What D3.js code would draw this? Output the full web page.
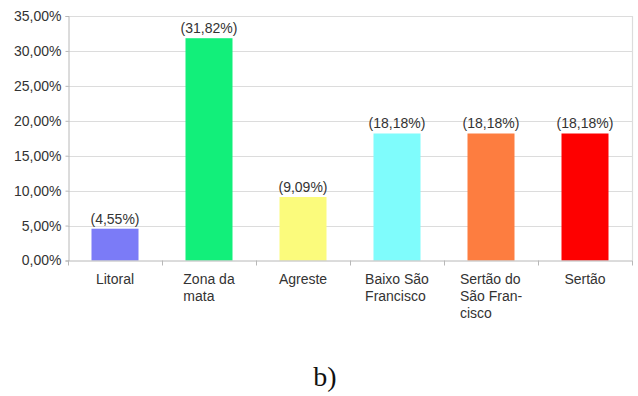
<!DOCTYPE html>
<html>
<head>
<meta charset="utf-8">
<script src="https://cdn.jsdelivr.net/npm/d3@7/dist/d3.min.js"></script>
<style>
  html, body { margin: 0; padding: 0; background: #fff; }
  svg { display: block; }
</style>
</head>
<body>
<svg id="chart" width="638" height="396"></svg>
<script>
// Regions and their share of records (percent)
const categories = ["Litoral", "Zona da mata", "Agreste", "Baixo São Francisco", "Sertão do São Francisco", "Sertão"];
const categoryLines = [["Litoral"], ["Zona da", "mata"], ["Agreste"], ["Baixo São", "Francisco"], ["Sertão do", "São Fran-", "cisco"], ["Sertão"]];
const values = [4.55, 31.82, 9.09, 18.18, 18.18, 18.18];
const barColors = ["#7b7bf7", "#12ef7a", "#fbfb7c", "#7ffcfc", "#fd7d40", "#fe0000"];
const yTicks = [0, 5, 10, 15, 20, 25, 30, 35];
const caption = "b)";

const svg = d3.select("#chart");
const plotLeft = 68, plotRight = 632, plotTop = 16, plotBottom = 260.5;

const ptBR = d3.formatLocale({ decimal: ",", thousands: ".", grouping: [3], currency: ["R$", ""] });
const fmt2 = ptBR.format(".2f");

const x = d3.scaleBand().domain(categories).range([plotLeft, plotRight]).paddingInner(0.5).paddingOuter(0.25);
const y = d3.scaleLinear().domain([0, 35]).range([plotBottom, plotTop]);

const font = "'Liberation Sans', Arial, sans-serif";
const textColor = "#333";

// horizontal gridlines
svg.append("g").selectAll("line").data(yTicks.slice(1)).join("line")
  .attr("x1", plotLeft).attr("x2", plotRight)
  .attr("y1", d => Math.round(y(d)) + 0.5).attr("y2", d => Math.round(y(d)) + 0.5)
  .attr("stroke", "#dcdcdc").attr("stroke-width", 1.2);

// right frame edge
svg.append("line").attr("x1", plotRight + 0.5).attr("x2", plotRight + 0.5).attr("y1", plotTop).attr("y2", plotBottom)
  .attr("stroke", "#dcdcdc").attr("stroke-width", 1.2);

// y axis
const yAxis = d3.axisLeft(y).tickValues(yTicks).tickSize(3).tickPadding(4)
  .tickFormat(d => fmt2(d) + "%");
const gy = svg.append("g").attr("transform", `translate(${plotLeft + 0.5},0)`).call(yAxis);
gy.select(".domain").attr("stroke", "#b8b8b8");
gy.selectAll(".tick line").attr("stroke", "#b8b8b8");
gy.selectAll(".tick text").attr("font-family", font).attr("font-size", 14).attr("fill", textColor);

// bars
svg.append("g").selectAll("rect").data(values).join("rect")
  .attr("x", (d, i) => x(categories[i]))
  .attr("y", d => y(d))
  .attr("width", x.bandwidth())
  .attr("height", d => y(0) - y(d))
  .attr("fill", (d, i) => barColors[i]);

// value labels
svg.append("g").selectAll("text").data(values).join("text")
  .attr("x", (d, i) => x(categories[i]) + x.bandwidth() / 2)
  .attr("y", d => y(d) - 5)
  .attr("text-anchor", "middle")
  .attr("font-family", font).attr("font-size", 14).attr("fill", textColor)
  .text(d => "(" + fmt2(d) + "%)");

// x axis baseline and separators between categories
const step = x.step();
svg.append("line").attr("x1", plotLeft).attr("x2", plotRight).attr("y1", plotBottom + 0.5).attr("y2", plotBottom + 0.5)
  .attr("stroke", "#b8b8b8").attr("stroke-width", 1);
svg.append("g").selectAll("line").data(d3.range(categories.length + 1)).join("line")
  .attr("x1", i => plotLeft + i * step + 0.5).attr("x2", i => plotLeft + i * step + 0.5)
  .attr("y1", plotBottom).attr("y2", plotBottom + 5)
  .attr("stroke", "#b8b8b8");

// category labels: lines left-aligned, block centred under the bar
const measure = svg.append("text").attr("font-family", font).attr("font-size", 14).attr("visibility", "hidden");
function textWidth(s) { measure.text(s); return measure.node().getComputedTextLength(); }
categoryLines.forEach((lines, i) => {
  const cx = x(categories[i]) + x.bandwidth() / 2;
  const w = d3.max(lines, textWidth);
  const t = svg.append("text")
    .attr("font-family", font).attr("font-size", 14).attr("fill", textColor);
  lines.forEach((ln, j) => {
    t.append("tspan").attr("x", cx - w / 2).attr("y", 284 + j * 17).text(ln);
  });
});
measure.remove();

// caption
svg.append("text").attr("x", 325).attr("y", 386).attr("text-anchor", "middle")
  .attr("font-family", "'Liberation Serif', 'Times New Roman', serif").attr("font-size", 28)
  .attr("fill", "#111").text(caption);
</script>
</body>
</html>
